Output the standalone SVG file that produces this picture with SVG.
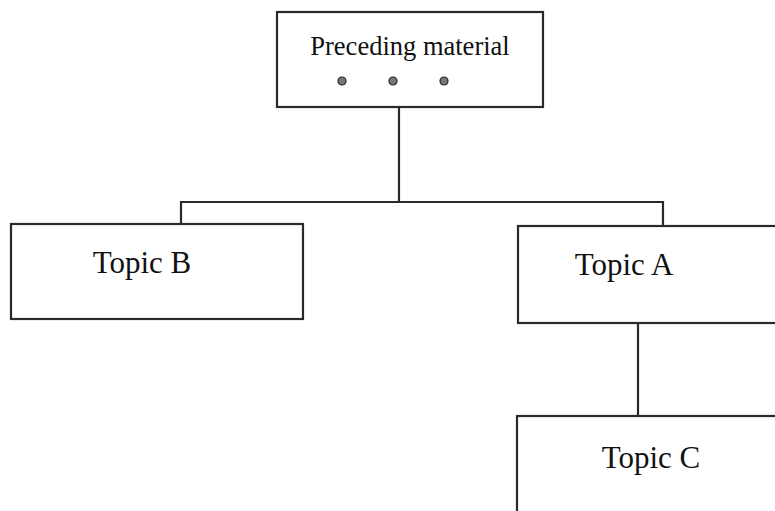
<svg xmlns="http://www.w3.org/2000/svg" width="775" height="511" viewBox="0 0 775 511">
  <style>
    .box { fill: #ffffff; stroke: #2a2a2a; stroke-width: 2.2; }
    .link { fill: none; stroke: #2a2a2a; stroke-width: 2.2; }
    .label { font-family: "Liberation Serif", "Times New Roman", serif; fill: #111; }
    .topic { font-size: 31px; }
    .head { font-size: 26.5px; }
    .dot { fill: #777; stroke: #222; stroke-width: 1.2; }
  </style>
  <rect width="775" height="511" fill="#ffffff"/>

  <g id="connectors">
    <!-- trunk from the top box down to the branch bar -->
    <path class="link" d="M399 107 V202"/>
    <!-- branch bar feeding Topic B and Topic A -->
    <path class="link" d="M181 224 V202 H663 V226"/>
    <!-- Topic A down to Topic C -->
    <path class="link" d="M638 323 V416"/>
  </g>

  <g id="preceding">
    <rect class="box" x="277" y="12" width="266" height="95"/>
    <text class="label head" x="410" y="55" text-anchor="middle">Preceding material</text>
    <circle class="dot" cx="342" cy="81" r="4"/>
    <circle class="dot" cx="393" cy="81" r="4"/>
    <circle class="dot" cx="444" cy="81" r="4"/>
  </g>

  <g id="topic-b">
    <rect class="box" x="11" y="224" width="292" height="95"/>
    <text class="label topic" x="142" y="273" text-anchor="middle">Topic B</text>
  </g>

  <g id="topic-a">
    <rect class="box" x="518" y="226" width="280" height="97"/>
    <text class="label topic" x="624" y="275" text-anchor="middle">Topic A</text>
  </g>

  <g id="topic-c">
    <rect class="box" x="517" y="416" width="280" height="120"/>
    <text class="label topic" x="651" y="468" text-anchor="middle">Topic C</text>
  </g>
</svg>
